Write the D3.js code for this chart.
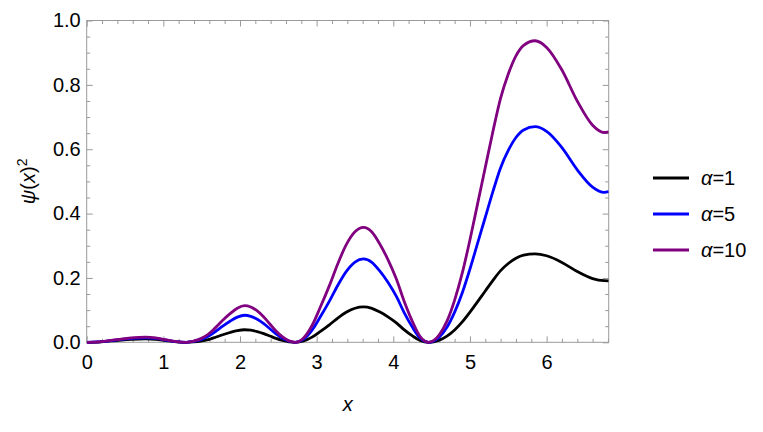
<!DOCTYPE html>
<html>
<head>
<meta charset="utf-8">
<script src="https://cdn.jsdelivr.net/npm/d3@7"></script>
<style>
  body { margin: 0; background: #fff; }
  svg { display: block; font-family: "Liberation Sans", Arial, sans-serif; }
</style>
</head>
<body>
<div id="chart"></div>
<script>
// Sample positions along x (denser around the humps).
const X_VALUES = [
  0, 0.19, 0.385, 0.58, 0.77, 0.90, 1.03, 1.17, 1.30,
  1.395, 1.49, 1.585, 1.68, 1.775, 1.87, 1.965, 2.06,
  2.14, 2.225, 2.31, 2.39, 2.47, 2.555, 2.64, 2.72,
  2.83, 2.94, 3.05, 3.17, 3.28, 3.39, 3.50, 3.61,
  3.72, 3.82, 3.93, 4.04, 4.14, 4.25, 4.35, 4.46,
  4.6, 4.7, 4.8, 4.9, 5.0, 5.1, 5.2, 5.3, 5.4, 5.5, 5.6, 5.7, 5.85,
  6.0, 6.2, 6.4, 6.6, 6.75, 6.81,
];

const PSI_ALPHA_1 = [
  0, 0.0016, 0.0055, 0.0094, 0.011, 0.0094, 0.0055, 0.0016, 0,
  0.0012, 0.0039, 0.0086, 0.0156, 0.0234, 0.0304, 0.0363, 0.039,
  0.0375, 0.0333, 0.0269, 0.0195, 0.012, 0.0057, 0.0015, 0,
  0.0042, 0.0161, 0.034, 0.055, 0.076, 0.0939, 0.1058, 0.110,
  0.1056, 0.0946, 0.0792, 0.0605, 0.0396, 0.0198, 0.0055, 0,
  0.0069, 0.0193, 0.0385, 0.0633, 0.0935, 0.1265, 0.1595, 0.1925, 0.2228, 0.2448, 0.2613, 0.2709, 0.275,
  0.269, 0.2483, 0.22, 0.198, 0.1914, 0.191,
];

const PSI_ALPHA_5 = [
  0, 0.002, 0.007, 0.012, 0.014, 0.012, 0.007, 0.002, 0,
  0.0025, 0.0084, 0.0185, 0.0336, 0.0504, 0.0655, 0.0781, 0.084,
  0.0808, 0.0717, 0.058, 0.042, 0.026, 0.0123, 0.0032, 0,
  0.0098, 0.0378, 0.08, 0.1295, 0.179, 0.2212, 0.2492, 0.259,
  0.2486, 0.2227, 0.1865, 0.1425, 0.0932, 0.0466, 0.013, 0,
  0.0168, 0.0469, 0.0938, 0.1541, 0.2278, 0.3082, 0.3886, 0.469, 0.5427, 0.5963, 0.6365, 0.66, 0.670,
  0.6553, 0.605, 0.536, 0.4824, 0.466, 0.468,
];

const PSI_ALPHA_10 = [
  0, 0.0023, 0.008, 0.0137, 0.016, 0.0137, 0.008, 0.0023, 0,
  0.0034, 0.0114, 0.025, 0.0456, 0.0684, 0.0889, 0.106, 0.114,
  0.1097, 0.0974, 0.0788, 0.057, 0.0352, 0.0166, 0.0043, 0,
  0.0136, 0.0521, 0.1103, 0.1785, 0.2467, 0.3049, 0.3434, 0.357,
  0.3427, 0.307, 0.257, 0.1964, 0.1285, 0.0643, 0.0179, 0,
  0.0234, 0.0656, 0.1312, 0.2155, 0.3186, 0.431, 0.5435, 0.6559, 0.759, 0.8339, 0.8902, 0.9229, 0.937,
  0.9164, 0.8461, 0.7496, 0.6746, 0.652, 0.654,
];

const SERIES_LABELS = ["1", "5", "10"];
const SERIES_COLORS = ["#000000", "#0000ff", "#800080"];

const X_TICKS = [0, 1, 2, 3, 4, 5, 6];
const Y_TICKS = [0, 0.2, 0.4, 0.6, 0.8, 1.0];

const W = 763, H = 432;
const frame = { left: 86.7, right: 608.7, top: 20.5, bottom: 342.3 };
const FRAME_COLOR = "#9a9a9a";
const FONT_SIZE = 20;

const svg = d3.select("#chart").append("svg")
  .attr("width", W).attr("height", H)
  .attr("viewBox", `0 0 ${W} ${H}`);

const x = d3.scaleLinear().domain([0, 6.81]).range([frame.left, frame.right]);
const y = d3.scaleLinear().domain([0, 1]).range([frame.bottom, frame.top]);

const minorX = d3.range(0, 6.81, 0.2).filter((v) => Math.abs(v - Math.round(v)) > 1e-6);
const minorY = d3.range(0, 1.0001, 0.05).filter((v) => Math.abs(v * 5 - Math.round(v * 5)) > 1e-6);

function styleAxis(g) {
  g.select(".domain").remove();
  g.selectAll(".tick line").attr("stroke", FRAME_COLOR).attr("stroke-width", 1);
  g.selectAll(".tick text")
    .attr("fill", "#000")
    .attr("font-size", FONT_SIZE)
    .attr("font-family", "Liberation Sans, Arial, sans-serif");
}

// bottom
svg.append("g").attr("transform", `translate(0,${frame.bottom})`)
  .call(d3.axisBottom(x).tickValues(X_TICKS).tickFormat(d3.format("d")).tickSize(-6).tickPadding(13))
  .call(styleAxis);
svg.append("g").attr("transform", `translate(0,${frame.bottom})`)
  .call(d3.axisBottom(x).tickValues(minorX).tickFormat("").tickSize(-3.5))
  .call(styleAxis);
// top
svg.append("g").attr("transform", `translate(0,${frame.top})`)
  .call(d3.axisTop(x).tickValues(X_TICKS).tickFormat("").tickSize(-6))
  .call(styleAxis);
svg.append("g").attr("transform", `translate(0,${frame.top})`)
  .call(d3.axisTop(x).tickValues(minorX).tickFormat("").tickSize(-3.5))
  .call(styleAxis);
// left
svg.append("g").attr("transform", `translate(${frame.left},0)`)
  .call(d3.axisLeft(y).tickValues(Y_TICKS).tickFormat(d3.format(".1f")).tickSize(-6).tickPadding(6))
  .call(styleAxis);
svg.append("g").attr("transform", `translate(${frame.left},0)`)
  .call(d3.axisLeft(y).tickValues(minorY).tickFormat("").tickSize(-3.5))
  .call(styleAxis);
// right
svg.append("g").attr("transform", `translate(${frame.right},0)`)
  .call(d3.axisRight(y).tickValues(Y_TICKS).tickFormat("").tickSize(-6))
  .call(styleAxis);
svg.append("g").attr("transform", `translate(${frame.right},0)`)
  .call(d3.axisRight(y).tickValues(minorY).tickFormat("").tickSize(-3.5))
  .call(styleAxis);

svg.append("rect")
  .attr("x", frame.left).attr("y", frame.top)
  .attr("width", frame.right - frame.left).attr("height", frame.bottom - frame.top)
  .attr("fill", "none").attr("stroke", FRAME_COLOR).attr("stroke-width", 1);

svg.append("clipPath").attr("id", "plot-clip")
  .append("rect")
  .attr("x", frame.left).attr("y", frame.top - 4)
  .attr("width", frame.right - frame.left).attr("height", frame.bottom - frame.top + 8);

const line = d3.line()
  .x((d) => x(d[0]))
  .y((d) => y(d[1]))
  .curve(d3.curveMonotoneX);

const series = [PSI_ALPHA_1, PSI_ALPHA_5, PSI_ALPHA_10];

svg.append("g").attr("clip-path", "url(#plot-clip)")
  .selectAll("path")
  .data(series)
  .join("path")
  .attr("d", (vals) => line(X_VALUES.map((xv, i) => [xv, vals[i]])))
  .attr("fill", "none")
  .attr("stroke", (d, i) => SERIES_COLORS[i])
  .attr("stroke-width", 2.8)
  .attr("stroke-linejoin", "round");

// axis titles
svg.append("text")
  .attr("x", (frame.left + frame.right) / 2).attr("y", 411)
  .attr("text-anchor", "middle")
  .attr("font-size", FONT_SIZE).attr("font-style", "italic")
  .text("x");

const yTitle = svg.append("text")
  .attr("transform", `translate(35,${(frame.top + frame.bottom) / 2}) rotate(-90)`)
  .attr("text-anchor", "middle")
  .attr("font-size", FONT_SIZE);
yTitle.append("tspan").attr("font-style", "italic").text("ψ");
yTitle.append("tspan").text("(");
yTitle.append("tspan").attr("font-style", "italic").text("x");
yTitle.append("tspan").text(")");
yTitle.append("tspan").attr("font-size", 14).attr("dy", -8).text("2");

// legend
const legend = svg.append("g").attr("transform", "translate(653,178)");
const item = legend.selectAll("g")
  .data(SERIES_LABELS)
  .join("g")
  .attr("transform", (d, i) => `translate(0,${i * 36})`);
item.append("line")
  .attr("x1", 0).attr("x2", 36).attr("y1", 0).attr("y2", 0)
  .attr("stroke", (d, i) => SERIES_COLORS[i])
  .attr("stroke-width", 2.8);
const lt = item.append("text")
  .attr("x", 48).attr("y", 0).attr("dy", "0.35em")
  .attr("font-size", FONT_SIZE);
lt.append("tspan").attr("font-style", "italic").text("α");
lt.append("tspan").text((d) => "=" + d);
</script>
</body>
</html>
